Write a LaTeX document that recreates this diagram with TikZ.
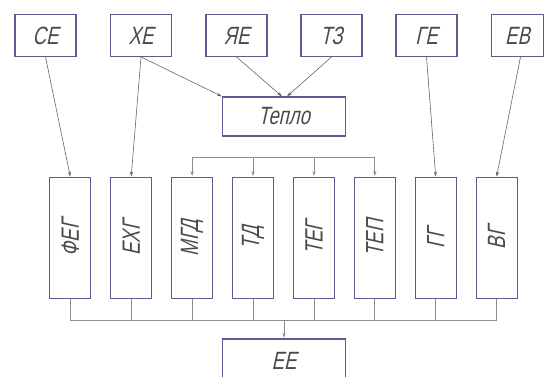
\documentclass[tikz,border=0pt]{standalone}
\usepackage{fontspec}
\setmainfont{Liberation Sans}[FakeSlant=0.22,FakeStretch=0.74]
\usetikzlibrary{arrows.meta}
\definecolor{boxc}{HTML}{5C5C94}
\definecolor{linec}{HTML}{666666}
\definecolor{busc}{HTML}{8C8C8C}
\definecolor{txtc}{HTML}{4A4A4A}
\tikzset{
  blk/.style={draw=boxc, line width=1.2pt, fill=white, text=txtc, inner sep=0pt, font=\fontsize{25}{25}\selectfont},
  topbox/.style={blk, minimum width=61pt, minimum height=41.7pt},
  vbox/.style={blk, minimum width=41pt, minimum height=121.5pt},
  vlab/.style={rotate=90, text=txtc, font=\fontsize{25}{25}\selectfont, inner sep=0pt},
  conn/.style={draw=linec, line width=0.6pt, -{Stealth[length=5pt,width=3.2pt]}},
  bus/.style={draw=busc, line width=0.7pt},
  busarr/.style={draw=busc, line width=0.7pt, -{Stealth[length=5pt,width=3.2pt]}, shorten >=0.6pt}
}
\begin{document}
\begin{tikzpicture}[x=1pt,y=-1pt]
\useasboundingbox (0,0) rectangle (545,376);
% top row
\node[topbox] (ce) at (45.5,35.5) {СЕ};
\node[topbox] (xe) at (141,35.5) {ХЕ};
\node[topbox] (ye) at (236.5,35.5) {ЯЕ};
\node[topbox] (tz) at (331.5,35.5) {ТЗ};
\node[topbox] (ge) at (426.5,35.5) {ГЕ};
\node[topbox, minimum width=52pt] (ev) at (517.5,35.5) {ЕВ};
% heat
\node[blk, minimum width=123pt, minimum height=39pt] (teplo) at (284,116.5) {Тепло};
% vertical boxes
\node[vbox] (feg) at (70.3,238) {};
\node[vlab] at (feg) {ФЕГ};
\node[vbox] (exg) at (131.2,238) {};
\node[vlab] at (exg) {ЕХГ};
\node[vbox] (mgd) at (192.1,238) {};
\node[vlab] at (mgd) {МГД};
\node[vbox] (td) at (253,238) {};
\node[vlab] at (td) {ТД};
\node[vbox] (teg) at (313.9,238) {};
\node[vlab] at (teg) {ТЕГ};
\node[vbox] (tep) at (374.8,238) {};
\node[vlab] at (tep) {ТЕП};
\node[vbox] (gg) at (435.7,238) {};
\node[vlab] at (gg) {ГГ};
\node[vbox] (vg) at (496.6,238) {};
\node[vlab] at (vg) {ВГ};
% bottom
\node[blk, minimum width=122.5pt, minimum height=44pt] (ee) at (284,361) {ЕЕ};
% top connectors
\draw[conn] (ce.south) -- (feg.north);
\draw[conn] (xe.south) -- (exg.north);
\draw[conn] (xe.south) -- (teplo.north west);
\draw[conn] (ye.south) -- ([xshift=-2pt]teplo.north);
\draw[conn] (tz.south) -- ([xshift=3pt]teplo.north);
\draw[conn] (ge.south) -- (gg.north);
\draw[conn] ([xshift=3pt]ev.south) -- (vg.north);
% upper bus
\coordinate (busT) at (0,157.8);
\draw[bus] (mgd.north |- busT) -- (tep.north |- busT);
\foreach \n in {mgd,td,teg,tep}{
  \draw[busarr] (\n.north |- busT) -- (\n.north);
}
% lower bus
\coordinate (busB) at (0,320);
\draw[bus] (feg.south |- busB) -- (vg.south |- busB);
\foreach \n in {feg,exg,mgd,td,teg,tep,gg,vg}{
  \draw[bus] (\n.south) -- (\n.south |- busB);
}
\draw[busarr] (ee.north |- busB) -- (ee.north);
\end{tikzpicture}
\end{document}
